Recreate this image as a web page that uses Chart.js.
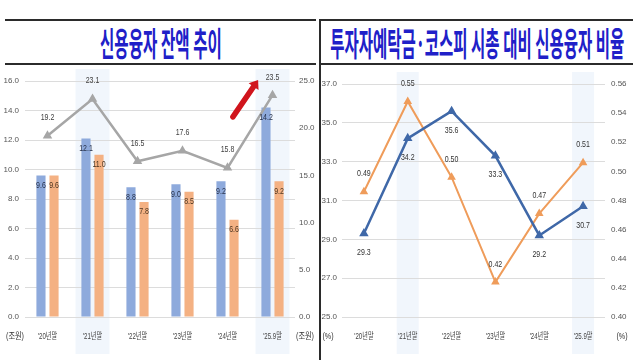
<!DOCTYPE html>
<html><head><meta charset="utf-8">
<script src="https://cdn.jsdelivr.net/npm/chart.js@4"></script>
<style>
html,body{margin:0;padding:0;background:#fff;width:640px;height:360px;overflow:hidden;position:relative;font-family:"Noto Sans CJK KR",sans-serif}
.rule{position:absolute;background:#2b2b2b}
.title{position:absolute;top:20px;height:44px;display:flex;align-items:center;justify-content:center;overflow:visible}
.title span{display:inline-block;font-family:"Noto Sans CJK KR";font-weight:700;font-size:33px;line-height:44px;color:#2020c8;white-space:nowrap;transform-origin:center center}
canvas{position:absolute;top:64px}
</style></head><body>
<div class="rule" style="left:5px;top:19px;width:311px;height:2px"></div>
<div class="rule" style="left:5px;top:63px;width:311px;height:2px"></div>
<div class="rule" style="left:320px;top:19px;width:313px;height:2px"></div>
<div class="rule" style="left:320px;top:63px;width:313px;height:2px"></div>
<div class="rule" style="left:319px;top:19px;width:2px;height:341px"></div>
<div class="title" id="t1" style="left:5px;width:311px"><span data-w="122">신용융자 잔액 추이</span></div>
<div class="title" id="t2" style="left:321px;width:312px"><span data-w="294">투자자예탁금·코스피 시총 대비 신용융자 비율</span></div>
<canvas id="c1" width="318" height="296" style="left:0"></canvas>
<canvas id="c2" width="319" height="296" style="left:321px"></canvas>
<script>
// ---- data ----
const categories = ["'20년말","'21년말","'22년말","'23년말","'24년말","'25.9말"];
const kospiLoan = [9.6, 12.1, 8.8, 9.0, 9.2, 14.2];     // 조원 (left axis)
const kosdaqLoan = [9.6, 11.0, 7.8, 8.5, 6.6, 9.2];     // 조원 (left axis)
const totalLoan = [19.2, 23.1, 16.5, 17.6, 15.8, 23.5]; // 조원 (right axis)
const ratioDeposit = [29.3, 34.2, 35.6, 33.3, 29.2, 30.7];         // % 투자자예탁금 대비
const ratioMarketCap = [0.486, 0.548, 0.496, 0.424, 0.471, 0.506]; // % 코스피 시총 대비
const highlighted = ["'21년말", "'25.9말"];
const leftUnit = "(조원)";
const rightUnit = "(%)";

// ---- titles: condensed like the reference ----
function fitTitles(){
  document.querySelectorAll('.title span').forEach(s=>{
    s.style.transform='none';
    const w = s.getBoundingClientRect().width;
    const target = +s.dataset.w;
    s.style.transform = 'scaleX(' + (target / w) + ')';
  });
}
fitTitles();
if (document.fonts && document.fonts.ready) document.fonts.ready.then(fitTitles);

const NUMFONT = '"Liberation Sans","Noto Sans CJK KR",sans-serif';
const TICK = '#555555';

function condensedText(ctx, text, x, y, font, color, sx){
  ctx.save();
  ctx.font = font; ctx.fillStyle = color;
  ctx.textAlign='center'; ctx.textBaseline='middle';
  ctx.translate(x, y); ctx.scale(sx, 1);
  ctx.fillText(text, 0, 0);
  ctx.restore();
}

const labelPlugin = {
  id: 'vlabels',
  afterDatasetsDraw(chart){
    const ctx = chart.ctx;
    chart.data.datasets.forEach((ds,i)=>{
      const lab = ds.labelCfg; if(!lab) return;
      const meta = chart.getDatasetMeta(i);
      meta.data.forEach((el,j)=>{
        condensedText(ctx, lab.fmt(ds.data[j]), el.x + (lab.dx||0), el.y + lab.dy, lab.font, lab.color, 0.78);
      });
    });
  }
};

function shadePlugin(halfW){
  return {
    id: 'shade',
    beforeDraw(chart){
      const ctx = chart.ctx, xs = chart.scales.x, ca = chart.chartArea;
      ctx.save();
      ctx.fillStyle = 'rgba(225,236,249,0.45)';
      highlighted.forEach(c=>{
        const x = xs.getPixelForValue(categories.indexOf(c));
        ctx.fillRect(x-halfW, ca.top-12, halfW*2, chart.height-ca.top+6);
      });
      ctx.restore();
    }
  };
}

// condensed category labels + unit labels under the axis
function xLabelPlugin(text, lx, rx){
  return {
    id: 'xlabels',
    afterDraw(chart){
      const ctx = chart.ctx, ca = chart.chartArea, xs = chart.scales.x;
      const y = ca.bottom + 20;
      categories.forEach((c,i)=>{
        condensedText(ctx, c, xs.getPixelForValue(i), y, '9px ' + NUMFONT, '#444', 0.68);
      });
      condensedText(ctx, text, lx, y, '9px ' + NUMFONT, '#333', 0.8);
      condensedText(ctx, text, rx, y, '9px ' + NUMFONT, '#333', 0.8);
    }
  };
}

const arrowPlugin = {
  id: 'arrow',
  afterDraw(chart){
    const xs = chart.scales.x, ys = chart.scales.y1, ctx = chart.ctx;
    const x0 = xs.getPixelForValue(4.12), y0 = ys.getPixelForValue(21.2);
    const x1 = xs.getPixelForValue(4.68), y1 = ys.getPixelForValue(25.1);
    const ang = Math.atan2(y1-y0, x1-x0);
    ctx.save();
    ctx.strokeStyle = '#d0141c'; ctx.fillStyle = '#d0141c';
    ctx.lineWidth = 5.5; ctx.lineCap = 'round';
    const hx = x1 - 8*Math.cos(ang), hy = y1 - 8*Math.sin(ang);
    ctx.beginPath(); ctx.moveTo(x0,y0); ctx.lineTo(hx,hy); ctx.stroke();
    ctx.beginPath();
    ctx.moveTo(x1,y1);
    ctx.lineTo(hx + 6*Math.cos(ang+Math.PI/2), hy + 6*Math.sin(ang+Math.PI/2));
    ctx.lineTo(hx + 6*Math.cos(ang-Math.PI/2), hy + 6*Math.sin(ang-Math.PI/2));
    ctx.closePath(); ctx.fill();
    ctx.restore();
  }
};

const tickFont = {family: NUMFONT, size: 8};

// ---- left chart ----
new Chart(document.getElementById('c1'), {
  data: {
    labels: categories,
    datasets: [
      {type:'line', label:'합계', data: totalLoan, yAxisID:'y1', borderColor:'#a6a6a6', backgroundColor:'#a6a6a6',
       borderWidth:2.5, pointStyle:'triangle', pointRadius:3, tension:0, order:0,
       labelCfg:{font:'9px '+NUMFONT, color:'#404040', dy:-18, fmt:v=>v.toFixed(1)}},
      {type:'bar', label:'유가증권', data: kospiLoan, yAxisID:'y', backgroundColor:'#8eaadc',
       categoryPercentage:0.58, barPercentage:0.7, order:1,
       labelCfg:{font:'9px '+NUMFONT, color:'#26304a', dy:10, fmt:v=>v.toFixed(1)}},
      {type:'bar', label:'코스닥', data: kosdaqLoan, yAxisID:'y', backgroundColor:'#f4b183',
       categoryPercentage:0.58, barPercentage:0.7, order:1,
       labelCfg:{font:'9px '+NUMFONT, color:'#4a3420', dy:10, fmt:v=>v.toFixed(1)}}
    ]
  },
  options: {
    responsive:false, animation:false, devicePixelRatio:1,
    layout:{padding:{top:17, left:0, right:0, bottom:0}},
    plugins:{legend:{display:false}, tooltip:{enabled:false}},
    scales:{
      x:{offset:true, grid:{display:false}, border:{display:false},
         ticks:{display:false},
         afterFit(s){ s.height = 43; }},
      y:{position:'left', min:0, max:16, grid:{color:'#dcdcdc', drawTicks:false}, border:{display:false},
         ticks:{stepSize:2, font:tickFont, color:TICK, padding:6, callback:v=>v.toFixed(1)},
         afterFit(s){ s.width = 25; }},
      y1:{position:'right', min:0, max:25, grid:{display:false, drawTicks:false}, border:{display:false},
         ticks:{stepSize:5, font:tickFont, color:TICK, padding:4, callback:v=>v.toFixed(1)},
         afterFit(s){ s.width = 23; }}
    }
  },
  plugins:[shadePlugin(17), labelPlugin, xLabelPlugin(leftUnit, 15, 305), arrowPlugin]
});

// ---- right chart ----
new Chart(document.getElementById('c2'), {
  type:'line',
  data: {
    labels: categories,
    datasets: [
      {label:'투자자예탁금 대비', data: ratioDeposit, yAxisID:'y', borderColor:'#3f68a8', backgroundColor:'#3f68a8',
       borderWidth:2.5, pointStyle:'triangle', pointRadius:3, tension:0,
       labelCfg:{font:'9px '+NUMFONT, color:'#333', dy:19, fmt:v=>v.toFixed(1)}},
      {label:'코스피 시총 대비', data: ratioMarketCap, yAxisID:'y1', borderColor:'#ef9c5a', backgroundColor:'#ef9c5a',
       borderWidth:2, pointStyle:'triangle', pointRadius:3, tension:0,
       labelCfg:{font:'9px '+NUMFONT, color:'#333', dy:-18, fmt:v=>v.toFixed(2)}}
    ]
  },
  options: {
    responsive:false, animation:false, devicePixelRatio:1,
    layout:{padding:{top:20, left:0, right:0, bottom:0}},
    plugins:{legend:{display:false}, tooltip:{enabled:false}},
    scales:{
      x:{offset:true, grid:{display:false}, border:{display:false},
         ticks:{display:false},
         afterFit(s){ s.height = 43; }},
      y:{position:'left', min:25, max:37, grid:{color:'#dcdcdc', drawTicks:false}, border:{display:false},
         ticks:{stepSize:2, font:tickFont, color:TICK, padding:5, callback:v=>v.toFixed(1)},
         afterFit(s){ s.width = 21; }},
      y1:{position:'right', min:0.40, max:0.56, grid:{display:false, drawTicks:false}, border:{display:false},
         ticks:{stepSize:0.02, font:tickFont, color:TICK, padding:6, callback:v=>v.toFixed(2)},
         afterFit(s){ s.width = 35; }}
    }
  },
  plugins:[shadePlugin(11), labelPlugin, xLabelPlugin(rightUnit, 7, 301)]
});
</script>
</body></html>
